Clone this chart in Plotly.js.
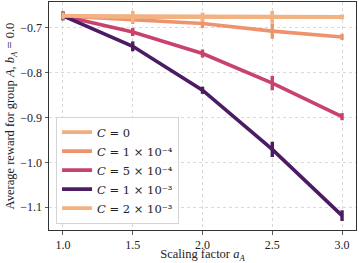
<!DOCTYPE html>
<html>
<head>
<meta charset="utf-8">
<script src="https://cdn.plot.ly/plotly-3.0.1.min.js"></script>
<style>html,body{margin:0;padding:0;background:#fff;}#chart{width:359px;height:263px;}</style>
</head>
<body>
<div id="chart"></div>
<script>
const scaling = [1.0, 1.5, 2.0, 2.5, 3.0];
const seriesNames = [
  "<i>C</i> = 0",
  "<i>C</i> = 1 × 10⁻⁴",
  "<i>C</i> = 5 × 10⁻⁴",
  "<i>C</i> = 1 × 10⁻³",
  "<i>C</i> = 2 × 10⁻³"
];
const rewardC0    = [-0.673, -0.674, -0.675, -0.675, -0.675];
const rewardC1e4  = [-0.673, -0.681, -0.690, -0.707, -0.720];
const rewardC5e4  = [-0.673, -0.709, -0.757, -0.823, -0.898];
const rewardC1e3  = [-0.673, -0.741, -0.839, -0.971, -1.119];
const rewardC2e3  = [-0.673, -0.676, -0.676, -0.676, -0.676];
const errC0   = [0.008, 0.012, 0.009, 0.013, 0.005];
const errC1e4 = [0.008, 0.010, 0.010, 0.017, 0.007];
const errC5e4 = [0.008, 0.009, 0.009, 0.016, 0.008];
const errC1e3 = [0.010, 0.011, 0.008, 0.017, 0.012];
const errC2e3 = [0.008, 0.013, 0.010, 0.014, 0.005];
const colors = ["#f3ae7e", "#ee936e", "#c8426c", "#4b1c63", "#f3b281"];

const ys = [rewardC0, rewardC1e4, rewardC5e4, rewardC1e3, rewardC2e3];
const errs = [errC0, errC1e4, errC5e4, errC1e3, errC2e3];

const traces = ys.map((y, i) => ({
  x: scaling, y: y, name: seriesNames[i], type: "scatter", mode: "lines",
  line: {color: colors[i], width: 3.6},
  error_y: {type: "data", array: errs[i], visible: true, color: colors[i], thickness: 3.4, width: 0}
}));

const serif = "Liberation Serif, Times New Roman, serif";
const layout = {
  width: 359, height: 263,
  margin: {l: 49, r: 3, t: 2, b: 33},
  paper_bgcolor: "#fff", plot_bgcolor: "#fff",
  font: {family: serif, size: 12, color: "#222"},
  showlegend: true,
  legend: {
    x: 0.023, y: 0.028, xanchor: "left", yanchor: "bottom",
    bgcolor: "rgba(255,255,255,0.85)", bordercolor: "#d4d4d4", borderwidth: 1,
    font: {family: "DejaVu Serif, serif", size: 11.5, color: "#222"},
    tracegroupgap: 0
  },
  xaxis: {
    range: [0.9, 3.1],
    tickvals: [1.0, 1.5, 2.0, 2.5, 3.0],
    ticktext: ["1.0", "1.5", "2.0", "2.5", "3.0"],
    ticks: "outside", ticklen: 3.5, tickwidth: 0.8, tickcolor: "#333",
    showline: true, linecolor: "#333", linewidth: 1, mirror: true,
    showgrid: true, gridcolor: "#cfcfcf", gridwidth: 0.8, griddash: "dot",
    zeroline: false,
    tickfont: {family: serif, size: 12, color: "#222"},
    title: {text: "Scaling factor <i>a<sub>A</sub></i>", font: {family: serif, size: 12.5, color: "#222"}, standoff: 6}
  },
  yaxis: {
    range: [-1.151, -0.642],
    tickvals: [-0.7, -0.8, -0.9, -1.0, -1.1],
    ticktext: ["−0.7", "−0.8", "−0.9", "−1.0", "−1.1"],
    ticks: "outside", ticklen: 3.5, tickwidth: 0.8, tickcolor: "#333",
    showline: true, linecolor: "#333", linewidth: 1, mirror: true,
    showgrid: true, gridcolor: "#cfcfcf", gridwidth: 0.8, griddash: "dot",
    zeroline: false,
    tickfont: {family: serif, size: 12, color: "#222"},
    title: {text: "Average reward for group <i>A</i>, <i>b<sub>A</sub></i> = 0.0", font: {family: serif, size: 12.5, color: "#222"}, standoff: 2}
  }
};
Plotly.newPlot("chart", traces, layout, {displayModeBar: false, staticPlot: true});
</script>
</body>
</html>
